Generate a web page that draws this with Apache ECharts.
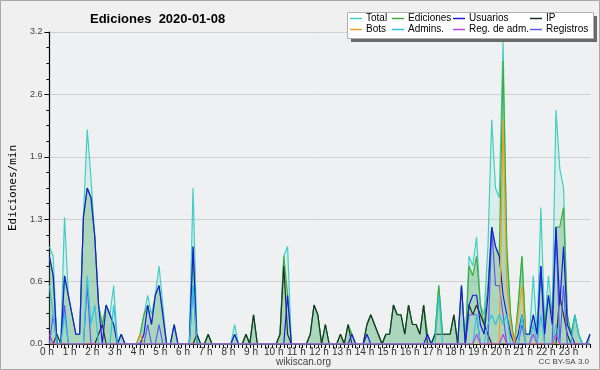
<!DOCTYPE html>
<html><head><meta charset="utf-8">
<script src="https://cdn.jsdelivr.net/npm/echarts@6/dist/echarts.min.js"></script>
<style>html,body{margin:0;padding:0;background:#f0f0f0}#c{width:600px;height:370px}</style>
</head><body><div id="c"></div>
<script>
// 10-minute slots, 144 per day
const hourLabels = ["0 h","1 h","2 h","3 h","4 h","5 h","6 h","7 h","8 h","9 h","10 h","11 h","12 h","13 h","14 h","15 h","16 h","17 h","18 h","19 h","20 h","21 h","22 h","23 h"];
const yTicks = [0, 0.64, 1.28, 1.92, 2.56, 3.2];

const total = [
1.0,0.9,0,0,1.3,0.5,0.3,0.1,0.1,1.3,2.2,1.7,
1.1,0.4,0.2,0.4,0.3,0.6,0,0.1,0,0,0,0,
0.1,0.3,0.5,0.3,0.5,0.8,0.4,0,0,0.2,0,0,
0,0,1.6,0.1,0,0,0.1,0,0,0,0,0,
0,0.2,0,0,0.1,0,0.3,0,0,0,0,0,
0,0.1,0.9,1.0,0,0,0,0,0,0.1,0.4,0.3,
0,0.2,0,0,0,0.1,0,0.2,0.1,0,0,0,
0.2,0.3,0.2,0.1,0,0.1,0.1,0.4,0.3,0.3,0.1,0.4,
0.2,0.2,0.1,0.4,0.1,0,0.1,0.6,0.1,0.1,0.1,0.3,
0,0.6,0,0.9,0.8,1.1,0.4,0.3,1.0,2.3,1.6,1.5,
3.1,0.9,0.3,0,0.4,0.9,0.1,0.1,0.7,0.1,1.4,0.2,
0.7,0.3,2.4,1.8,1.6,0.3,0.1,0.3,0.1,0,0,0.1];

const ediciones = [
0.9,0.7,0,0,0.7,0.5,0.3,0.1,0.1,1.3,1.6,1.5,
1.1,0.4,0.2,0.4,0.3,0.2,0,0.1,0,0,0,0,
0.1,0.3,0.4,0.2,0.5,0.6,0.3,0,0,0.2,0,0,
0,0,1.0,0.1,0,0,0.1,0,0,0,0,0,
0,0.1,0,0,0.1,0,0.3,0,0,0,0,0,
0,0.1,0.9,0.5,0,0,0,0,0,0.1,0.4,0.3,
0,0.2,0,0,0,0.1,0,0.2,0.1,0,0,0,
0.2,0.3,0.2,0.1,0,0.1,0.1,0.4,0.3,0.3,0.1,0.4,
0.2,0.2,0.1,0.4,0.1,0,0.1,0.6,0.1,0.1,0.1,0.3,
0,0.6,0,0.8,0.7,0.9,0.4,0.2,0.6,1.2,1.0,0.9,
2.9,1.0,0.3,0,0.4,0.9,0.1,0.1,0.3,0.1,0.8,0.2,
0.5,0.3,1.2,1.2,1.4,0.3,0.1,0.3,0.1,0,0,0.1];

const usuarios = [
0.9,0.7,0,0,0.7,0.5,0.3,0.1,0.1,1.3,1.6,1.5,
1.1,0.4,0,0.4,0.3,0.2,0,0.1,0,0,0,0,
0,0.1,0.4,0.2,0.5,0.6,0.3,0,0,0.2,0,0,
0,0,1.0,0,0,0,0,0,0,0,0,0,
0,0.1,0,0,0,0,0,0,0,0,0,0,
0,0,0,0.5,0,0,0,0,0,0,0,0,
0,0,0,0,0,0,0,0,0.1,0,0,0,
0.1,0,0,0,0,0,0,0,0,0,0,0,
0,0,0,0,0.1,0,0,0,0,0,0,0,
0,0.6,0,0.4,0.5,0.5,0.2,0.1,0.5,1.2,1.0,0.9,
0.5,0.3,0.1,0,0.1,0.3,0.1,0.1,0.3,0.1,0.8,0.1,
0.5,0.2,1.2,0.4,1.0,0.2,0.1,0,0,0,0,0.1];

const ip = [
0,0,0.1,0,0,0,0,0,0,0,0,0,
0,0.1,0.2,0,0,0,0,0,0,0,0,0,
0,0,0,0,0,0,0,0,0,0,0,0,
0,0,0,0.1,0,0,0.1,0,0,0,0,0,
0,0,0,0,0.1,0,0.3,0,0,0,0,0,
0,0.1,0.8,0.1,0,0,0,0,0,0.1,0.4,0.3,
0,0.2,0,0,0,0.1,0,0.2,0,0,0,0,
0.2,0.3,0.2,0.1,0,0.1,0.1,0.4,0.3,0.3,0.1,0.4,
0.2,0.2,0.1,0.4,0,0,0.1,0.1,0.1,0.1,0.1,0.3,
0,0,0,0.4,0.3,0.4,0.3,0.2,0.1,0,0,0,
0,0,0,0,0,0,0,0,0,0,0,0,
0,0,0,0.5,0.3,0.1,0,0,0,0,0,0];

const bots = [
0,0,0,0,0,0,0,0,0,0,0,0,
0,0,0,0,0,0,0,0,0,0,0,0,
0.1,0,0,0,0,0,0,0,0,0,0,0,
0,0,0,0,0,0,0,0,0,0,0,0,
0,0,0,0,0,0,0,0,0,0,0,0,
0,0,0,0,0,0,0,0,0,0,0,0,
0,0,0,0,0,0,0,0,0,0,0,0,
0,0,0,0,0,0,0,0,0,0,0,0,
0,0,0,0,0,0,0,0,0,0,0,0,
0,0,0,0,0,0,0,0,0,0,0,0,
2.3,0.6,0.2,0,0.3,0.6,0,0,0,0,0,0,
0,0,0,0,0,0,0,0,0,0,0,0];

const admins = [
0.6,0.3,0,0,0.3,0,0,0,0,0,0.7,0.2,
0.4,0,0,0,0,0.4,0,0,0,0,0,0,
0,0,0,0,0,0,0,0,0,0,0,0,
0,0,0.6,0,0,0,0,0,0,0,0,0,
0,0,0,0,0,0,0,0,0,0,0,0,
0,0,0,0,0,0,0,0,0,0,0,0,
0,0,0,0,0,0,0,0,0,0,0,0,
0,0,0,0,0,0,0,0,0,0,0,0,
0,0,0,0,0,0,0,0.5,0,0,0,0,
0,0,0,0,0,0.3,0,0,0.2,0.3,0.2,0.3,
0.2,0.3,0,0,0,0.3,0,0,0.2,0,0.3,0,
0,0,0.2,0,0,0,0,0.3,0.1,0,0,0];

const regAdm = [
0.1,0,0,0,0,0,0,0,0,0,0,0,
0,0,0,0,0,0,0,0,0,0,0,0,
0,0,0,0,0,0,0,0,0,0,0,0,
0,0,0,0,0,0,0,0,0,0,0,0,
0,0,0,0,0,0,0,0,0,0,0,0,
0,0,0,0,0,0,0,0,0,0,0,0,
0,0,0,0,0,0,0,0,0,0,0,0,
0,0,0,0,0,0,0,0,0,0,0,0,
0,0,0,0,0,0,0,0,0,0,0,0,
0,0,0,0,0,0.1,0,0,0,0,0,0,
0.1,0,0,0,0,0,0,0,0.1,0,0,0,
0,0,0.1,0,0,0,0,0,0,0,0,0];

const registros = [
0,0.3,0,0,0.4,0,0,0,0,0,0.6,0,
0,0,0,0,0,0,0,0,0,0,0,0,
0,0,0.2,0,0,0.2,0,0,0,0,0,0,
0,0,0.6,0,0,0,0,0,0,0,0,0,
0,0,0,0,0,0,0,0,0,0,0,0,
0,0,0,0,0,0,0,0,0,0,0,0,
0,0,0,0,0,0,0,0,0,0,0,0,
0,0,0,0,0,0,0,0,0,0,0,0,
0,0,0,0,0,0,0,0,0,0,0,0,
0,0,0,0.3,0.3,0.3,0,0,0,1.2,0.6,0.6,
0.3,0,0,0,0,0.2,0,0,0,0,0.8,0,
0,0,1.2,0,0.6,0,0,0,0,0,0,0];

const slots = [];
for (let i = 0; i < 144; i++) {
  const h = Math.floor(i / 6), m = (i % 6) * 10;
  slots.push(h + ':' + (m < 10 ? '0' + m : m));
}

const F = 'Liberation Sans, Arial, sans-serif';
function line(name, data, color, extra) {
  return Object.assign({
    name, type: 'line', data, symbol: 'none', animation: false,
    lineStyle: { color, width: 1.2 }, itemStyle: { color }
  }, extra || {});
}

const chart = echarts.init(document.getElementById('c'), null, { renderer: 'canvas' });
const legendBase = {
  orient: 'vertical', top: 13, itemGap: 0, itemWidth: 12, itemHeight: 1.5,
  padding: 0, icon: 'rect', selectedMode: false, z: 20,
  textStyle: { fontFamily: F, fontSize: 10, color: '#000', lineHeight: 11, padding: [0, 0, 0, -1] }
};
chart.setOption({
  backgroundColor: '#f0f0f0',
  title: { text: 'Ediciones  2020-01-08', left: 85, top: 8,
    textStyle: { fontFamily: F, fontSize: 13, fontWeight: 'bold', color: '#000' } },
  legend: [
    Object.assign({}, legendBase, { left: 350, data: ['Total', 'Bots'] }),
    Object.assign({}, legendBase, { left: 392, data: ['Ediciones', 'Admins.'] }),
    Object.assign({}, legendBase, { left: 453, data: ['Usuarios', 'Reg. de adm.'] }),
    Object.assign({}, legendBase, { left: 530, data: ['IP', 'Registros'] })
  ],
  graphic: [
    { type: 'rect', z: 0, shape: { x: 0.5, y: 0.5, width: 599, height: 369 },
      style: { fill: 'none', stroke: '#a8a8a8', lineWidth: 1 }, silent: true },
    { type: 'rect', z: 18, shape: { x: 351, y: 16, width: 246, height: 26 },
      style: { fill: '#6a6a6a' }, silent: true },
    { type: 'rect', z: 19, shape: { x: 347.5, y: 12.5, width: 246, height: 26 },
      style: { fill: '#ffffff', stroke: '#b0b0b0', lineWidth: 1 }, silent: true },
    { type: 'text', z: 5, left: 276, top: 357,
      style: { text: 'wikiscan.org', font: '10px ' + F, fill: '#444' } },
    { type: 'text', z: 5, right: 11, top: 358,
      style: { text: 'CC BY-SA 3.0', font: '8px ' + F, fill: '#444' } }
  ],
  grid: { left: 46, right: 10, top: 32, bottom: 26, show: true,
    backgroundColor: '#eef0f1', borderWidth: 0 },
  xAxis: {
    type: 'category', data: slots, boundaryGap: false,
    axisLine: { lineStyle: { color: '#000', width: 1.2 } },
    axisTick: { interval: 0, length: 4, lineStyle: { color: '#000' } },
    axisLabel: { interval: 5, margin: 3, fontFamily: F, fontSize: 10, color: '#333',
      padding: [0, 5, 0, 0],
      formatter: (v, i) => hourLabels[Math.floor(i / 6)] },
    splitLine: { show: false }
  },
  yAxis: {
    type: 'value', min: yTicks[0], max: yTicks[yTicks.length - 1], interval: yTicks[1],
    name: 'Ediciones/min', nameLocation: 'middle', nameGap: 30, nameRotate: 90,
    nameTextStyle: { fontFamily: 'DejaVu Sans Mono, monospace', fontSize: 11, color: '#000' },
    axisLine: { show: true, lineStyle: { color: '#000', width: 1.2 } },
    axisTick: { show: true, length: 5, lineStyle: { color: '#000' } },
    minorTick: { show: true, splitNumber: 4, length: 3, lineStyle: { color: '#000' } },
    axisLabel: { margin: 7, fontFamily: F, fontSize: 9, color: '#444',
      formatter: v => v.toFixed(1) },
    splitLine: { lineStyle: { color: '#cfcfcf', width: 1 } }
  },
  series: [
    line('Total', total, '#3fcfc4', { areaStyle: { color: 'rgba(120,220,205,0.22)' } }),
    line('Ediciones', ediciones, '#3aae3a', { areaStyle: { color: 'rgba(60,160,70,0.42)' } }),
    line('IP', ip, '#1f3325'),
    line('Registros', registros, '#5a5af0'),
    line('Usuarios', usuarios, '#1a1ae0'),
    line('Bots', bots, '#f0a020'),
    line('Admins.', admins, '#2ec4de'),
    line('Reg. de adm.', regAdm, '#c040e0')
  ]
});
</script></body></html>
